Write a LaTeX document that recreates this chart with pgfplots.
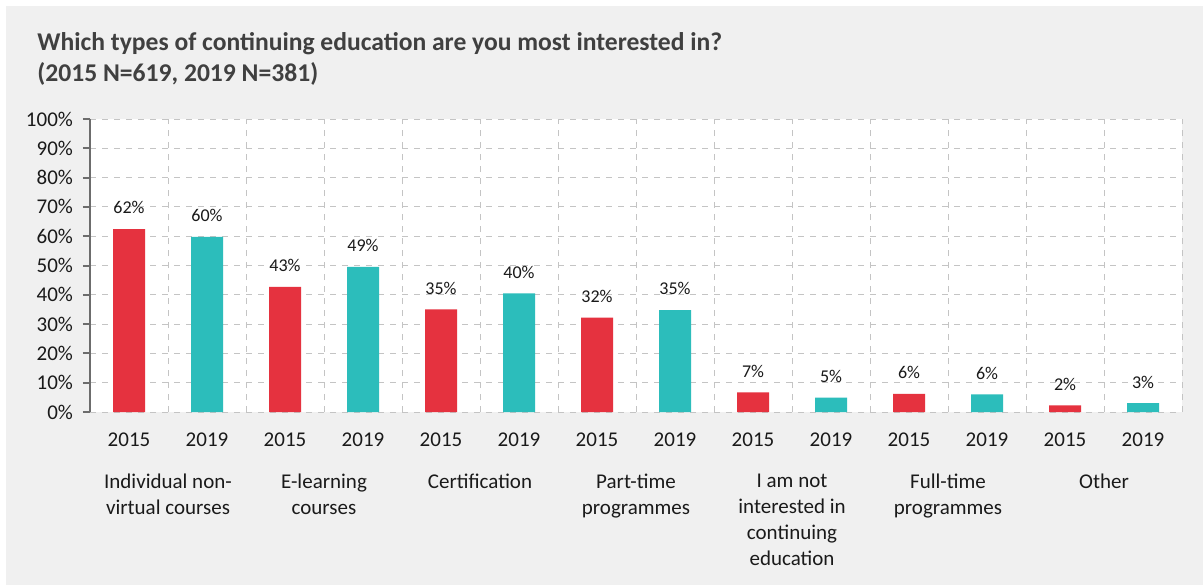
\documentclass[border=0pt]{standalone}
\usepackage{pgfplots}
\pgfplotsset{compat=1.18}
\usepackage{pgfplotstable}
\usepackage{fontspec}
\setmainfont{Carlito}
\definecolor{bgc}{HTML}{F0F0F0}
\definecolor{redc}{HTML}{E5323F}
\definecolor{tealc}{HTML}{2CBDBB}
\definecolor{gridc}{HTML}{C4C4C4}
\definecolor{titlec}{HTML}{404040}
\definecolor{txtc}{HTML}{1A1A1A}

\pgfplotstableread{
x y lab
0 62.4 62
2 42.7 43
4 35.0 35
6 32.2 32
8 6.7 7
10 6.2 6
12 2.3 2
}\dataA
\pgfplotstableread{
x y lab
1 59.8 60
3 49.5 49
5 40.5 40
7 34.8 35
9 4.9 5
11 6.0 6
13 3.0 3
}\dataB

\begin{document}
\begin{tikzpicture}[x=1pt,y=1pt]
\useasboundingbox (0,0) rectangle (601.5,292.5);
\fill[white] (0,0) rectangle (601.5,292.5);
\fill[bgc] (3,0) rectangle (601.5,289.5);
\node[anchor=base west, inner sep=0, font=\bfseries\fontsize{12.8}{14}\selectfont, text=titlec] at (18.5,267) {Which types of continuing education are you most interested in?};
\node[anchor=base west, inner sep=0, font=\bfseries\fontsize{12.8}{14}\selectfont, text=titlec] at (18.5,251.5) {(2015 N=619, 2019 N=381)};
\begin{axis}[
  at={(45pt,86.5pt)}, anchor=south west,
  scale only axis, width=546pt, height=146.5pt,
  xmin=-0.5, xmax=13.5, ymin=0, ymax=100,
  axis background/.style={fill=white},
  separate axis lines,
  axis x line*=bottom, axis y line*=left,
  x axis line style={draw=none},
  y axis line style={draw=gray!85!black, line width=1pt},
  ytick={0,10,...,100},
  yticklabels={0\%,10\%,20\%,30\%,40\%,50\%,60\%,70\%,80\%,90\%,100\%},
  ytick style={draw=gray!85!black, line width=1pt},
  tick align=outside, major tick length=3.5pt,
  yticklabel shift=1.5pt,
  xtick={0,...,13},
  xticklabels={2015,2019,2015,2019,2015,2019,2015,2019,2015,2019,2015,2019,2015,2019},
  xtick style={draw=none},
  xticklabel shift=3.5pt,
  minor xtick={0.5,1.5,...,13.5},
  ymajorgrids, xminorgrids,
  major grid style={dashed, gridc, line width=0.5pt},
  minor grid style={dashed, gridc, line width=0.5pt},
  tick label style={font=\fontsize{10.5}{12}\selectfont, text=txtc},
  ybar, bar width=16pt, bar shift=0pt,
  nodes near coords={\pgfplotspointmeta\%},
  point meta=explicit symbolic,
  nodes near coords style={font=\fontsize{9}{11}\selectfont, text=txtc, yshift=4pt},
  clip=false,
]
\addplot[fill=redc, draw=none] table[x=x, y=y, meta=lab] {\dataA};
\addplot[fill=tealc, draw=none] table[x=x, y=y, meta=lab] {\dataB};
\foreach \p/\t in {0.5/{Individual non-\\virtual courses}, 2.5/{E-learning\\courses}, 4.5/{Certification}, 6.5/{Part-time\\programmes}, 8.5/{I am not\\interested in\\continuing\\education}, 10.5/{Full-time\\programmes}, 12.5/{Other}}{
  \edef\temp{\noexpand\node[anchor=north, inner sep=0, align=center, font=\noexpand\fontsize{10.5}{13}\noexpand\selectfont, text=txtc] at (axis cs:\p,0) [yshift=-31pt] {\unexpanded\expandafter{\t}};}
  \temp
}
\end{axis}
\end{tikzpicture}
\end{document}
